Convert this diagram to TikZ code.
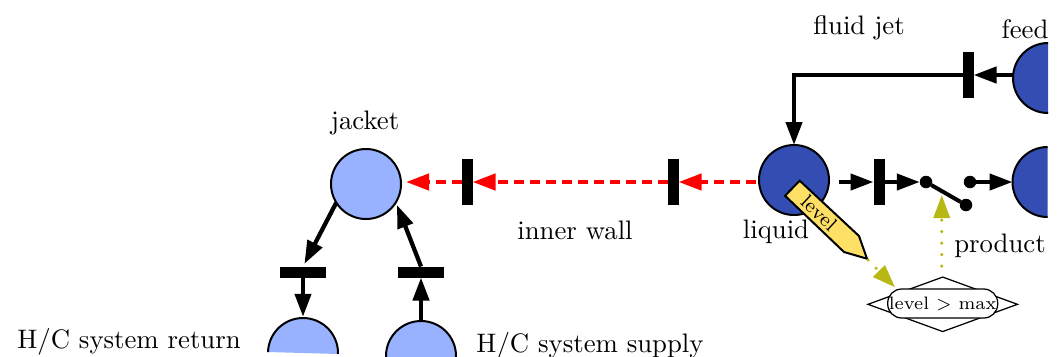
\documentclass[tikz,border=0pt]{standalone}
\usetikzlibrary{arrows.meta,shapes.geometric,shapes.misc,calc}
\definecolor{dkblue}{RGB}{51,77,178}
\definecolor{ltblue}{RGB}{153,178,255}
\definecolor{pencil}{RGB}{255,224,102}
\definecolor{oliveg}{RGB}{184,184,20}
\tikzset{
  x=0.4pt,y=-0.4pt,
  place/.style={circle,draw=black,line width=0.8pt,minimum size=28pt,inner sep=0pt,outer sep=0pt},
  dkplace/.style={place,fill=dkblue},
  ltplace/.style={place,fill=ltblue},
  vbar/.style={rectangle,fill=black,minimum width=4.4pt,minimum height=18.4pt,inner sep=0pt,outer sep=0pt},
  hbar/.style={rectangle,fill=black,minimum width=18.4pt,minimum height=4.4pt,inner sep=0pt,outer sep=0pt},
  dot/.style={circle,fill=black,minimum size=5pt,inner sep=0pt,outer sep=0pt},
  arr/.style={line width=1.7pt,-{Triangle[length=9.2pt,width=6.4pt]}},
  redarr/.style={arr,red,dash pattern=on 4pt off 2.4pt},
  olarr/.style={line width=1.4pt,oliveg,dash pattern=on 0pt off 4.6pt,line cap=round,-{Triangle[length=9.2pt,width=6.4pt]}},
  lbl/.style={inner sep=0pt,text=black,font=\fontsize{10.7}{13}\selectfont}
}
\begin{document}
\begin{tikzpicture}
\useasboundingbox (0,0) rectangle (1057,356);
% places
\node[ltplace] (jacket) at (366,184) {};
\node[dkplace] (liquid) at (794,180) {};
\begin{scope}
  \clip (1000,30) rectangle (1048,130);
  \node[dkplace] (feedp) at (1048,78) {};
\end{scope}
\begin{scope}
  \clip (1000,130) rectangle (1047.5,230);
  \node[dkplace] (prodp) at (1047.5,182) {};
\end{scope}
\begin{scope}
  \clip (250,300) -- (350,300) -- (350,354.3) -- (250,351.5) -- cycle;
  \node[ltplace] (ret) at (303,353) {};
\end{scope}
\node[ltplace] (sup) at (421,356) {};
% transitions
\node[vbar] (t1) at (467,182) {};
\node[vbar] (t2) at (673,182) {};
\node[vbar] (t3) at (879,182) {};
\node[vbar] (t4) at (968,75) {};
\node[hbar] (t5) at (303,272) {};
\node[hbar] (t6) at (421,272) {};
% switch
\node[dot] (s1) at (926,182) {};
\node[dot] (s2) at (970,182) {};
\node[dot] (s3) at (966,205) {};
\draw[line width=1.6pt] (s1) -- (s3);
% pencil
\draw[fill=pencil,line width=0.8pt,line join=miter] (799.7,180.7) -- (859,236) -- (867,258.7) -- (844,252) -- (785,195.7) -- cycle;
\node[lbl,rotate=-43,font=\fontsize{8}{9}\selectfont] (lv) at (819,213) {level};
\coordinate (tip) at (868,260);
% guard
\node[diamond,draw=black,line width=0.5pt,minimum width=60pt,minimum height=22pt,inner sep=0pt,aspect=2.7] (guard) at (942.7,304.3) {};
\node[rectangle,rounded corners=5.6pt,draw=black,fill=white,line width=0.5pt,minimum width=44pt,minimum height=11.6pt,inner sep=0pt,font=\fontsize{7.2}{9}\selectfont] (gl) at (942.7,303.5) {level $>$ max};
% red
\draw[redarr,shorten <=1.2pt] (liquid.west |- t2.east) -- (t2.east);
\draw[redarr] (t2.west) -- (t1.east);
\draw[redarr,shorten >=2pt] (t1.west) -- (jacket.east |- t1.west);
% black arcs
\draw[arr] (feedp.west |- t4.east) -- (t4.east);
\draw[arr] (t4.west) -- (794,75) -- (liquid.north);
\draw[arr,shorten <=2pt] (liquid.east |- t3.west) ++(5,0) -- (t3.west);
\draw[arr] (t3.east) -- (s1.west);
\draw[arr] (s2.east) -- (prodp.west |- s2.east);
\draw[arr,shorten >=1.2pt] (jacket.212) -- (t5.north);
\draw[arr,shorten >=0.5pt] (t5.south) -- (ret.north);
\draw[arr] (sup.north) -- (t6.south);
\draw[arr] (t6.north) -- ($(jacket.center)+(31,21)$);
% dotted
\draw[olarr] (tip) -- ($(gl.north west)+(8,-1)$);
\draw[olarr] (guard.north) ++(-1,-10) -- ($(s3.west)+(-18,-10)$);
% labels
\node[lbl] (l1) at (859,28) {fluid jet};
\node[lbl] (l2) at (1025,29.5) {feed};
\node[lbl] (l3) at (365,123) {jacket};
\node[lbl] (l4) at (575,230.5) {inner wall};
\node[lbl] (l5) at (776,232) {liquid};
\node[lbl] (l6) at (1000,246) {product};
\node[lbl] (l7) at (129,341.5) {H/C system return};
\node[lbl] (l8) at (590,345.5) {H/C system supply};
\end{tikzpicture}
\end{document}
